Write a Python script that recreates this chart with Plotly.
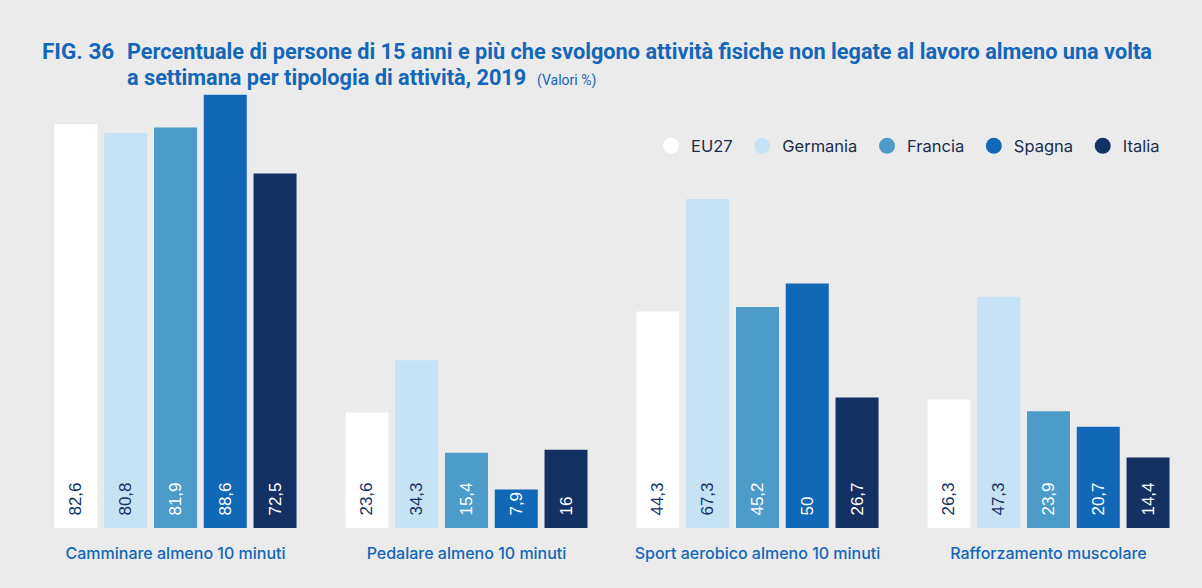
import plotly.graph_objects as go

categories = ["Camminare almeno 10 minuti", "Pedalare almeno 10 minuti",
              "Sport aerobico almeno 10 minuti", "Rafforzamento muscolare"]
series_names = ["EU27", "Germania", "Francia", "Spagna", "Italia"]
eu27 = [82.6, 23.6, 44.3, 26.3]
germania = [80.8, 34.3, 67.3, 47.3]
francia = [81.9, 15.4, 45.2, 23.9]
spagna = [88.6, 7.9, 50, 20.7]
italia = [72.5, 16, 26.7, 14.4]
series_values = [eu27, germania, francia, spagna, italia]

colors = ["#ffffff", "#c6e3f6", "#4d9bc8", "#1168b7", "#133263"]
text_colors = ["#133263", "#133263", "#ffffff", "#ffffff", "#ffffff"]
BG = "#ebebeb"
BLUE = "#1466b8"
NAVY = "#1a2b4c"

def fmt(v):
    return f"{v:g}".replace(".", ",")

fig = go.Figure()
for name, vals, col, tcol in zip(series_names, series_values, colors, text_colors):
    fig.add_trace(go.Bar(
        x=categories, y=vals, name=name, marker=dict(color=col, line=dict(width=0)),
        text=["\u00a0\u00a0" + fmt(v) for v in vals],
        textposition="inside", insidetextanchor="start", textangle=-90,
        constraintext="none",
        textfont=dict(family="Liberation Sans, Arial, sans-serif", size=17, color=tcol),
        showlegend=False, hoverinfo="skip",
    ))
    fig.add_trace(go.Scatter(
        x=[None], y=[None], mode="markers", name=name + "\u00a0",
        marker=dict(symbol="circle", size=17, color=col),
        showlegend=True,
    ))

fig.update_layout(
    width=1202, height=588,
    paper_bgcolor=BG, plot_bgcolor=BG,
    margin=dict(l=30, r=8, t=88, b=60, autoexpand=False),
    barmode="group", bargap=0.145, bargroupgap=0.136,
    showlegend=True,
    legend=dict(orientation="h", x=0.5335, y=0.868, xanchor="left", yanchor="middle",
                bgcolor="rgba(0,0,0,0)", font=dict(family="Inter, sans-serif", size=16.5, color=NAVY),
                itemsizing="trace", itemwidth=30, traceorder="normal"),
    xaxis=dict(showgrid=False, zeroline=False, showline=False, ticks="", automargin=False,
               tickfont=dict(family="Inter, sans-serif", size=16, color=BLUE, weight=500),
               ticklabelstandoff=14),
    yaxis=dict(range=[0, 90], visible=False, showgrid=False, zeroline=False, automargin=False),
    annotations=[
        dict(text="<b>FIG. 36</b>", xref="paper", yref="paper", x=0.0086, y=1.0, xanchor="left",
             yanchor="middle", yshift=37, showarrow=False,
             font=dict(family="Roboto, sans-serif", size=22.5, color=BLUE)),
        dict(text="<b>Percentuale di persone di 15 anni e più che svolgono attività fisiche non legate al lavoro almeno una volta</b>",
             xref="paper", yref="paper", x=0.0816, y=1.0, xanchor="left", yanchor="middle", yshift=37,
             showarrow=False, font=dict(family="Roboto, sans-serif", size=21.7, color=BLUE)),
        dict(text="<b>a settimana per tipologia di attività, 2019</b>  <span style='font-size:14px;font-weight:normal'>(Valori %)</span>",
             xref="paper", yref="paper", x=0.0816, y=1.0, xanchor="left", yanchor="middle", yshift=11,
             showarrow=False, font=dict(family="Roboto, sans-serif", size=21.7, color=BLUE)),
    ],
)

fig.write_html("out.html", config={"displayModeBar": False},
               post_script="document.body.style.margin='0';document.body.style.background='#ebebeb';")
